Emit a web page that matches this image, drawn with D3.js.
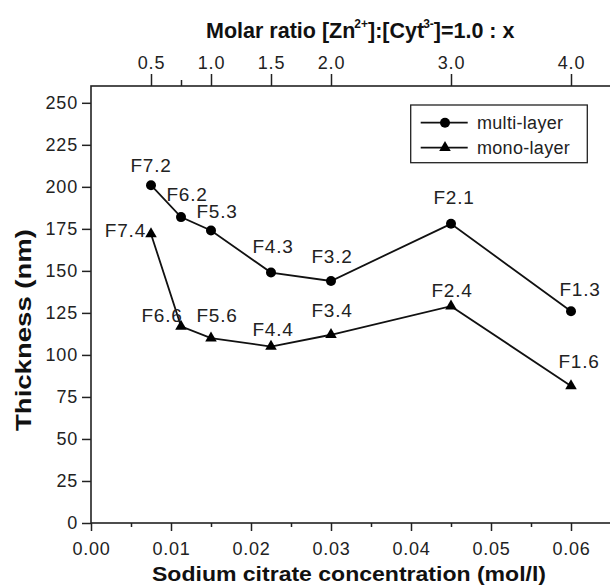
<!DOCTYPE html>
<html>
<head>
<meta charset="utf-8">
<script src="https://cdn.jsdelivr.net/npm/d3@7"></script>
<style>
  body { margin: 0; background: #fff; }
  svg text { font-family: "Liberation Sans", Arial, sans-serif; fill: #222; }
  .tick line { stroke: #222; stroke-width: 1.5; }
  .tick text { font-size: 18px; letter-spacing: 0.8px; }
  .line { fill: none; stroke: #111; stroke-width: 1.8; }
  .lbl { font-size: 19px; letter-spacing: 0.8px; }
  .title { font-weight: bold; fill: #111; }
</style>
</head>
<body>
<svg id="chart" width="610" height="586"></svg>
<script>
'use strict';

// Data
var conc = [0.0075, 0.01125, 0.015, 0.0225, 0.03, 0.045, 0.06];
var multi = [201, 182, 174, 149, 144, 178, 126];
var mono = [172, 117, 110, 105, 112, 129, 81.5];
var multiLabels = ["F7.2", "F6.2", "F5.3", "F4.3", "F3.2", "F2.1", "F1.3"];
var monoLabels = ["F7.4", "F6.6", "F5.6", "F4.4", "F3.4", "F2.4", "F1.6"];
var yTicks = [0, 25, 50, 75, 100, 125, 150, 175, 200, 225, 250];
var xTicks = [0, 0.01, 0.02, 0.03, 0.04, 0.05, 0.06];
var xMinor = [0.005, 0.015, 0.025, 0.035, 0.045, 0.055, 0.065];
var ratioTicks = [0.5, 1.0, 1.5, 2.0, 3.0, 4.0];
var ratioMinor = [0.75];
var ratioPerConc = 0.015; // x = conc / 0.015

// Set the dimensions
var margin = {top: 86, right: -1, bottom: 63, left: 91},
    width = 610 - margin.left - margin.right,
    height = 586 - margin.top - margin.bottom;

var svg = d3.select("#chart");
var g = svg.append("g")
    .attr("transform", "translate(" + margin.left + "," + margin.top + ")");

var x = d3.scaleLinear().domain([0, 0.065]).range([0, width]);
var y = d3.scaleLinear().domain([0, 260]).range([height, 0]);
var xr = d3.scaleLinear().domain([0, 0.065 / ratioPerConc]).range([0, width]);

// Axes
var yAxis = d3.axisLeft(y).tickValues(yTicks).tickSize(9).tickPadding(4);
g.append("g").attr("class", "y axis").call(yAxis)
    .call(function(s) { s.select(".domain").remove(); });

var xAxis = d3.axisBottom(x).tickValues(xTicks).tickSize(8).tickPadding(11)
    .tickFormat(d3.format(".2f"));
g.append("g").attr("class", "x axis")
    .attr("transform", "translate(0," + height + ")")
    .call(xAxis)
    .call(function(s) { s.select(".domain").remove(); });

g.append("g").attr("class", "x minor")
    .attr("transform", "translate(0," + height + ")")
    .call(d3.axisBottom(x).tickValues(xMinor).tickSize(4).tickFormat(""))
    .call(function(s) { s.select(".domain").remove(); });

var topAxis = d3.axisTop(xr).tickValues(ratioTicks).tickSize(12).tickPadding(5)
    .tickFormat(d3.format(".1f"));
g.append("g").attr("class", "top axis").call(topAxis)
    .call(function(s) { s.select(".domain").remove(); });

g.append("g").attr("class", "top minor")
    .call(d3.axisTop(xr).tickValues(ratioMinor).tickSize(6).tickFormat(""))
    .call(function(s) { s.select(".domain").remove(); });

// Frame
g.append("rect")
    .attr("x", 0).attr("y", 0)
    .attr("width", width).attr("height", height)
    .attr("fill", "none").attr("stroke", "#222").attr("stroke-width", 1.6);

// Series
function pts(vals, labels) {
    return conc.map(function(c, i) { return {c: c, v: vals[i], label: labels[i]}; });
}
var multiData = pts(multi, multiLabels);
var monoData = pts(mono, monoLabels);

var line = d3.line()
    .x(function(d) { return x(d.c); })
    .y(function(d) { return y(d.v); });

g.append("path").attr("class", "line").attr("d", line(multiData));
g.append("path").attr("class", "line").attr("d", line(monoData));

var tri = d3.symbol().type(d3.symbolTriangle).size(58);

g.selectAll(".dot")
    .data(multiData)
  .enter().append("circle")
    .attr("class", "dot")
    .attr("r", 5)
    .attr("cx", function(d) { return x(d.c); })
    .attr("cy", function(d) { return y(d.v); })
    .attr("fill", "#000");

g.selectAll(".tri")
    .data(monoData)
  .enter().append("path")
    .attr("class", "tri")
    .attr("d", tri)
    .attr("transform", function(d) { return "translate(" + x(d.c) + "," + y(d.v) + ")"; })
    .attr("fill", "#000");

// point labels (offset from point, px)
var labelPos = {
    "F7.2": [0, -13], "F6.2": [6, -16], "F5.3": [6, -13], "F4.3": [2, -20],
    "F3.2": [1, -18], "F2.1": [3, -20], "F1.3": [9, -15],
    "F7.4": [-5, 3, "end"], "F6.6": [-19, -4], "F5.6": [6, -16], "F4.4": [2, -11],
    "F3.4": [1, -18], "F2.4": [1, -9], "F1.6": [8, -18]
};
g.selectAll(".lbl")
    .data(multiData.concat(monoData))
  .enter().append("text")
    .attr("class", "lbl")
    .attr("x", function(d) { return x(d.c) + labelPos[d.label][0]; })
    .attr("y", function(d) { return y(d.v) + labelPos[d.label][1]; })
    .style("text-anchor", function(d) { return labelPos[d.label][2] || "middle"; })
    .text(function(d) { return d.label; });

// Legend
var leg = g.append("g").attr("transform", "translate(" + (410.7 - margin.left) + "," + (105 - margin.top) + ")");
leg.append("rect").attr("width", 176.6).attr("height", 57.7)
    .attr("fill", "#fff").attr("stroke", "#222").attr("stroke-width", 1.3);
[["multi-layer", "circle"], ["mono-layer", "tri"]].forEach(function(it, i) {
    var yy = 17.7 + i * 25;
    leg.append("line").attr("x1", 10).attr("x2", 57).attr("y1", yy).attr("y2", yy)
        .attr("stroke", "#111").attr("stroke-width", 1.8);
    if (it[1] === "circle") {
        leg.append("circle").attr("cx", 34.3).attr("cy", yy).attr("r", 5).attr("fill", "#000");
    } else {
        leg.append("path").attr("d", tri).attr("fill", "#000")
            .attr("transform", "translate(34.3," + yy + ")");
    }
    leg.append("text").attr("x", 66.3).attr("y", yy + 6)
        .style("font-size", "18px").style("letter-spacing", "0.3px")
        .text(it[0]);
});

// Axis titles
svg.append("text").attr("class", "title")
    .attr("x", 349).attr("y", 581)
    .style("text-anchor", "middle").style("font-size", "21px")
    .attr("textLength", 394).attr("lengthAdjust", "spacingAndGlyphs")
    .text("Sodium citrate concentration (mol/l)");

svg.append("text").attr("class", "title")
    .attr("transform", "translate(31,330) rotate(-90)")
    .style("text-anchor", "middle").style("font-size", "22px")
    .attr("textLength", 202).attr("lengthAdjust", "spacingAndGlyphs")
    .text("Thickness (nm)");

var tt = svg.append("text").attr("class", "title")
    .attr("x", 206).attr("y", 38)
    .style("font-size", "21.5px");
tt.append("tspan").text("Molar ratio [Zn");
tt.append("tspan").attr("dx", -1).attr("dy", -10).style("font-size", "12px").text("2+");
tt.append("tspan").attr("dy", 10).text("]:[Cyt");
tt.append("tspan").attr("dx", -1).attr("dy", -10).style("font-size", "12px").text("3-");
tt.append("tspan").attr("dy", 10).text("]=1.0 : x");
</script>
</body>
</html>
